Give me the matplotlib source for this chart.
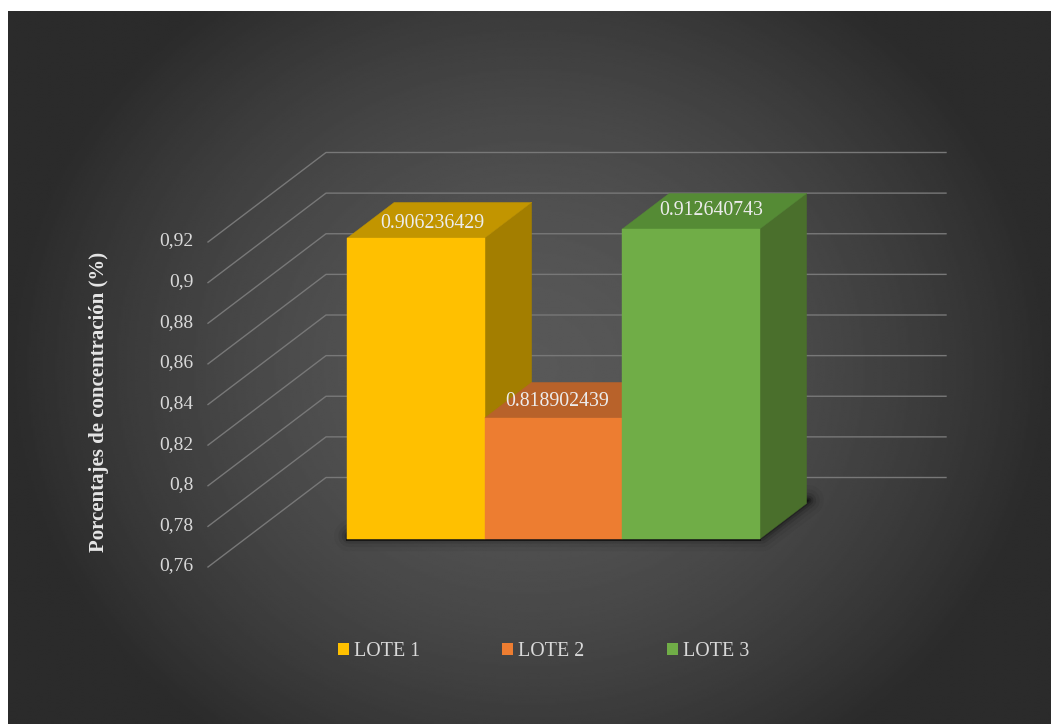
import numpy as np
import matplotlib
matplotlib.use("Agg")
import matplotlib.pyplot as plt
from matplotlib.patches import Polygon, Patch
from matplotlib.transforms import IdentityTransform, Affine2D

lotes = ["LOTE 1", "LOTE 2", "LOTE 3"]
bar_tops = [0.9082, 0.8196, 0.9126]
bar_labels = ["0.906236429", "0.818902439", "0.912640743"]
y_ticks = [0.76, 0.78, 0.80, 0.82, 0.84, 0.86, 0.88, 0.90, 0.92]
y_tick_labels = ["0,76", "0,78", "0,8", "0,82", "0,84", "0,86", "0,88", "0,9", "0,92"]
front_colors = ["#ffc000", "#ed7d31", "#70ad47"]
top_colors = ["#c29500", "#b8622a", "#558b35"]
side_colors = ["#a37e00", "#a0551f", "#4a6f2c"]

plt.rcParams["font.family"] = ["Liberation Serif", "DejaVu Serif"]

W, H = 1051, 724
fig = plt.figure(figsize=(W / 100, H / 100), dpi=100, facecolor="white")


def box(x0, y0, x1, y1):
    # pixel box (y from the top) to figure fractions
    return [x0 / W, 1 - y1 / H, (x1 - x0) / W, (y1 - y0) / H]


# dark radial background
bg = fig.add_axes(box(8, 11, W, H))
bg.axis("off")
yy, xx = np.mgrid[-1:1:360j, -1:1:520j]
r = np.clip(np.sqrt(xx**2 + (yy / 1.3) ** 2), 0, 1)
bg.imshow(0x58 - (0x58 - 0x2b) * r**1.7, cmap="gray", vmin=0, vmax=255, aspect="auto",
          interpolation="bilinear")

# front plane of the 3d box, x in category units
ax = fig.add_axes(box(208, 242, 828, 567))
ax.patch.set_visible(False)
ax.set_xlim(-1.245, 3.265)
ax.set_ylim(0.76, 0.92)
for s in ax.spines.values():
    s.set_visible(False)
ax.set_xticks([])
ax.set_yticks(y_ticks, y_tick_labels)
ax.tick_params(axis="y", length=0, pad=10.5, labelsize=14, labelcolor="#d9d9d9")
for lab in ax.get_yticklabels():
    lab.set_transform(lab.get_transform() + Affine2D().translate(0, 3))
ax.set_ylabel("Porcentajes de concentración (%)", fontsize=15, fontweight="bold",
              color="#e6e6e6", labelpad=0)
ax.yaxis.set_label_coords(-99 / 620, 0.508)

depth_x, depth_y = 118, 89.5
bar_front, bar_back = 0.313, 0.71


def pt(x, v, t):
    # data value at depth t (0 front wall edge, 1 back wall) to display pixels
    p = ax.transData.transform((x, v))
    return (p[0] + depth_x * t, p[1] + depth_y * t)


def face(points, color, z):
    ax.add_patch(Polygon(points, closed=True, facecolor=color, edgecolor=color, lw=0.3,
                         transform=IdentityTransform(), clip_on=False, zorder=z))


# gridlines: side wall and back wall
for v in y_ticks:
    x0, x1 = ax.get_xlim()
    a, b, c = pt(x0, v, 0), pt(x0, v, 1), pt(x1, v, 1)
    ax.plot([a[0], b[0], c[0]], [a[1], b[1], c[1]], color="#787878", lw=1.0,
            transform=IdentityTransform(), clip_on=False, zorder=1)

# soft shadow under the bars
base = 0.76
shadow = [pt(-0.5, base, bar_front), pt(2.5, base, bar_front),
          pt(2.5, base, bar_back), pt(-0.5, base, bar_back)]
shadow = [(p[0] + 2, p[1] + 3) for p in shadow]
for w, alpha in [(22, 0.05), (16, 0.08), (11, 0.14), (7, 0.22), (4, 0.35), (1.5, 0.6)]:
    ax.add_patch(Polygon(shadow, closed=True, facecolor="#101010", edgecolor="#101010",
                         lw=w, alpha=alpha, joinstyle="round",
                         transform=IdentityTransform(), clip_on=False, zorder=2))
ax.plot([pt(-0.5, base, bar_front)[0], pt(2.5, base, bar_front)[0]],
        [pt(-0.5, base, bar_front)[1] - 1] * 2, color="#141414", lw=1.5, alpha=0.9,
        transform=IdentityTransform(), clip_on=False, zorder=2)

# bars left to right so each one hides the side of the last
for i, v in enumerate(bar_tops):
    l, r_ = i - 0.5, i + 0.5
    z = 3 + i
    face([pt(r_, base, bar_front), pt(r_, base, bar_back), pt(r_, v, bar_back),
          pt(r_, v, bar_front)], side_colors[i], z)
    face([pt(l, v, bar_front), pt(r_, v, bar_front), pt(r_, v, bar_back),
          pt(l, v, bar_back)], top_colors[i], z)
    face([pt(l, base, bar_front), pt(r_, base, bar_front), pt(r_, v, bar_front),
          pt(l, v, bar_front)], front_colors[i], z)

# labels sit on the top faces, excel moved them by hand
nudge_x = [16, 4, 20]
nudge_y = [-3, -1, 1]
for i, v in enumerate(bar_tops):
    px = pt(i, v, bar_front)
    ax.text(px[0] + nudge_x[i], px[1] + depth_y * (bar_back - bar_front) / 2 + nudge_y[i],
            bar_labels[i], transform=IdentityTransform(), ha="center", va="center",
            fontsize=14.3, color="#ececec", zorder=10, clip_on=False)

handles = [Patch(facecolor=c, edgecolor="none") for c in front_colors]
fig.legend(handles, lotes, loc="center", bbox_to_anchor=(543.5 / W, 1 - 652 / H), ncol=3,
           frameon=False, fontsize=14.4, labelcolor="#d9d9d9", handlelength=0.55,
           handleheight=0.55, handletextpad=0.25, columnspacing=4.1, borderpad=0,
           borderaxespad=0)

fig.savefig("out.png", dpi=100, facecolor="white")
